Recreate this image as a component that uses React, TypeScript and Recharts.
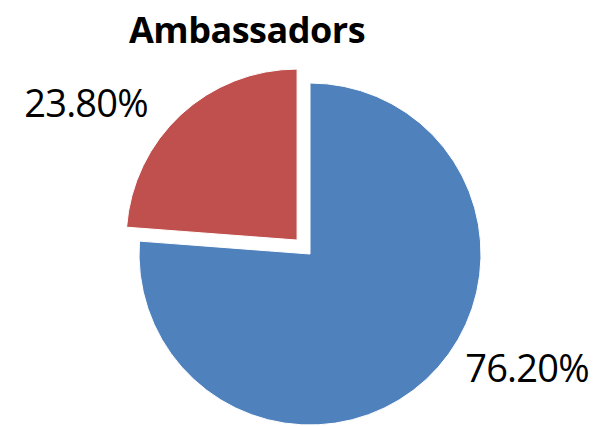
import { PieChart, Pie, Cell, Sector } from 'recharts';

const categories = ['Yes', 'No'];
const shares = [76.2, 23.8];
const colors = ['#4F81BD', '#C0504D'];
const chartTitle = 'Ambassadors';

const data = categories.map((name, i) => ({ name, value: shares[i] }));

const RAD = Math.PI / 180;
const EXPLODED = 'No';
const EXPLODE_PX = 19;

// label offsets from the pie centre, per category
const labelPos: Record<string, { dx: number; dy: number }> = {
  Yes: { dx: 217, dy: 113 },
  No: { dx: -211, dy: -138 },
};

const renderSector = (props: any) => {
  const name = props.payload?.name ?? props.name;
  let { cx, cy } = props;
  if (name === EXPLODED) {
    cx += EXPLODE_PX * Math.cos(props.midAngle * RAD);
    cy -= EXPLODE_PX * Math.sin(props.midAngle * RAD);
  }
  return <Sector {...props} cx={cx} cy={cy} />;
};

const renderLabel = (props: any) => {
  const name = props.payload?.name ?? props.name;
  let { cx, cy } = props;
  if (name === EXPLODED) {
    cx += EXPLODE_PX * Math.cos(props.midAngle * RAD);
    cy -= EXPLODE_PX * Math.sin(props.midAngle * RAD);
  }
  const p = labelPos[name] ?? { dx: 0, dy: 0 };
  return (
    <text
      x={cx + p.dx}
      y={cy + p.dy}
      textAnchor="middle"
      dominantBaseline="central"
      fill="#000"
      style={{ fontFamily: '"Open Sans", sans-serif', fontSize: 38, fontWeight: 500, letterSpacing: -0.8 }}
    >
      {`${Number(props.value).toFixed(2)}%`}
    </text>
  );
};

export default function App() {
  return (
    <div style={{ width: 609, height: 426, position: 'absolute', left: 0, top: 0, background: '#fff' }}>
      <PieChart width={609} height={426} margin={{ top: 0, right: 0, bottom: 0, left: 0 }}>
        <text
          x={247}
          y={43}
          textAnchor="middle"
          fill="#000"
          style={{ fontFamily: '"Open Sans", sans-serif', fontSize: 36, fontWeight: 700, letterSpacing: -0.5 }}
        >
          {chartTitle}
        </text>
        <Pie
          data={data}
          dataKey="value"
          nameKey="name"
          cx={310}
          cy={254}
          outerRadius={171}
          startAngle={90}
          endAngle={-270}
          stroke="#fff"
          strokeWidth={1}
          shape={renderSector}
          label={renderLabel}
          labelLine={false}
          isAnimationActive={false}
        >
          {data.map((d, i) => (
            <Cell key={d.name} fill={colors[i]} />
          ))}
        </Pie>
      </PieChart>
    </div>
  );
}
